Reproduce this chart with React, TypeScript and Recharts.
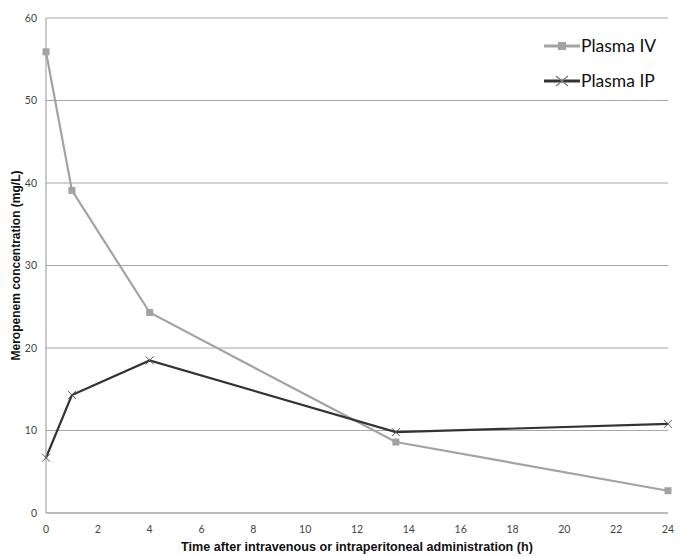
import { LineChart, Line, XAxis, YAxis, CartesianGrid } from "recharts";

const times = [0, 1, 4, 13.5, 24];
const plasmaIV = [55.9, 39.1, 24.3, 8.6, 2.7];
const plasmaIP = [6.7, 14.3, 18.5, 9.8, 10.8];
const xTicks = [0, 2, 4, 6, 8, 10, 12, 14, 16, 18, 20, 22, 24];
const yTicks = [0, 10, 20, 30, 40, 50, 60];

const IV_COLOR = "#a3a3a3";
const IP_COLOR = "#333333";

const data = times.map((t, i) => ({ t, iv: plasmaIV[i], ip: plasmaIP[i] }));

const SquareDot = (p: any) => (
  <rect key={p.index} x={p.cx - 3.5} y={p.cy - 3.5} width={7} height={7} fill={IV_COLOR} />
);

const CrossDot = (p: any) => (
  <path key={p.index} d={`M${p.cx - 4},${p.cy - 4}L${p.cx + 4},${p.cy + 4}M${p.cx - 4},${p.cy + 4}L${p.cx + 4},${p.cy - 4}`} stroke="#555" strokeWidth={1} />
);

const legendItems = [
  { name: "Plasma IV", color: IV_COLOR, sq: true },
  { name: "Plasma IP", color: IP_COLOR, sq: false },
];

const tickStyle = { fontSize: 10.5, fill: "#444", fontFamily: "Lato, sans-serif" };
const titleStyle = { fontSize: 12, fontWeight: "bold", fill: "#111", fontFamily: "Liberation Sans, Arial, sans-serif" };

const LegendBox = () => (
  <div style={{ position: "absolute", left: 544, top: 28, fontFamily: "Lato, sans-serif", fontSize: 17.5, color: "#111" }}>
    {legendItems.map((e) => (
      <div key={e.name} style={{ display: "flex", alignItems: "center", height: 35 }}>
        <svg width={36} height={14}>
          <line x1={0} y1={7} x2={36} y2={7} stroke={e.color} strokeWidth={3} />
          {e.sq ? (
            <rect x={14} y={3} width={8} height={8} fill={e.color} />
          ) : (
            <path d="M12,2L24,12M12,12L24,2" stroke="#777" strokeWidth={1.2} />
          )}
        </svg>
        <span style={{ marginLeft: 1 }}>{e.name}</span>
      </div>
    ))}
  </div>
);

export default function App() {
  return (
    <div style={{ position: "absolute", left: 0, top: 0, background: "#fff" }}>
      <LineChart width={684} height={556} data={data} margin={{ top: 18, right: 16, bottom: 0, left: 0 }}>
        <CartesianGrid horizontal vertical={false} stroke="#a6a6a6" strokeWidth={1.2} />
        <XAxis
          dataKey="t"
          type="number"
          domain={[0, 24]}
          ticks={xTicks}
          height={43}
          tickLine={false}
          axisLine={{ stroke: "#a6a6a6", strokeWidth: 1.2 }}
          tick={tickStyle}
          tickMargin={7}
          label={{ value: "Time after intravenous or intraperitoneal administration (h)", position: "insideBottom", offset: 5, style: { ...titleStyle, fontSize: 12.6 } }}
        />
        <YAxis
          type="number"
          domain={[0, 60]}
          ticks={yTicks}
          width={46}
          tickLine={false}
          axisLine={{ stroke: "#a6a6a6", strokeWidth: 1.2 }}
          tick={tickStyle}
          tickMargin={3}
          label={{ value: "Meropenem concentration (mg/L)", angle: -90, position: "insideLeft", offset: 16, style: { ...titleStyle, textAnchor: "middle" } }}
        />
        <Line dataKey="iv" stroke={IV_COLOR} strokeWidth={2.2} dot={SquareDot} isAnimationActive={false} />
        <Line dataKey="ip" stroke={IP_COLOR} strokeWidth={2.2} dot={CrossDot} isAnimationActive={false} />
      </LineChart>
      <LegendBox />
    </div>
  );
}
